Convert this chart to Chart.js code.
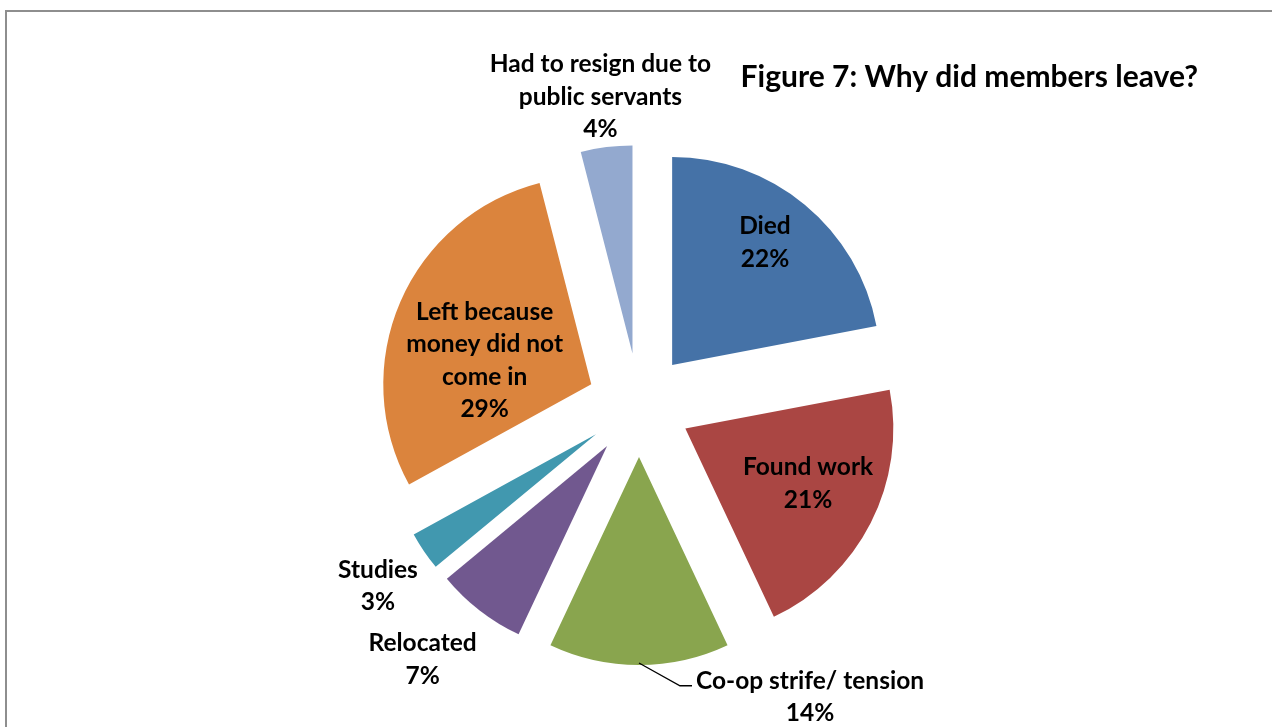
<!DOCTYPE html>
<html>
<head>
<meta charset="utf-8">
<title>Figure 7: Why did members leave?</title>
<script src="https://cdn.jsdelivr.net/npm/chart.js@4.4.1/dist/chart.umd.min.js"></script>
<style>
    html, body { margin: 0; padding: 0; background: #fff; }
    canvas { display: block; }
</style>
</head>
<body>
<canvas id="myChart" width="1272" height="727"></canvas>
<script>
// Why members left the co-op, share of all leavers (%)
const reasons = [
    ['Died'],
    ['Found work'],
    ['Co-op strife/ tension'],
    ['Relocated'],
    ['Studies'],
    ['Left because', 'money did not', 'come in'],
    ['Had to resign due to', 'public servants']
];
const shares = [22, 21, 14, 7, 3, 29, 4];

const sliceColors = ['#4572A7', '#AA4643', '#89A54E', '#71588F', '#4198AF', '#DB843D', '#93A9CF'];

// label placement: fraction of the radius along the slice bisector, then a pixel nudge
const labelRadius = [0.7, 0.7, 1, 1, 1, 0.7, 1];
const labelNudge = [[0, -10], [-7, -11], [171, 32], [-57, 49], [-46, 35], [27, 34], [-6, -50]];
const hasLeader = [false, false, true, false, false, false, false];

const EXPLODE = 52;      // px each slice is pulled out from the centre
const LINE_H = 32.5;
const LABEL_FONT = 'bold 24.5px Lato';

// white background + the frame lines along the top and left
const frame = {
    id: 'frame',
    beforeDraw(chart) {
        const ctx = chart.ctx;
        ctx.save();
        ctx.fillStyle = '#fff';
        ctx.fillRect(0, 0, chart.width, chart.height);
        ctx.strokeStyle = '#8e8e8e';
        ctx.lineWidth = 2;
        ctx.beginPath();
        ctx.moveTo(6, chart.height);
        ctx.lineTo(6, 11);
        ctx.lineTo(chart.width, 11);
        ctx.stroke();
        ctx.restore();
    }
};

// draw every slice pushed out along its bisector (same radius for all of them)
const explodedPie = {
    id: 'explodedPie',
    beforeDatasetDraw(chart, args) {
        const ctx = chart.ctx;
        args.meta.data.forEach(arc => {
            const mid = (arc.startAngle + arc.endAngle) / 2;
            ctx.save();
            ctx.translate(Math.cos(mid) * EXPLODE, Math.sin(mid) * EXPLODE);
            arc.draw(ctx);
            ctx.restore();
        });
        return false;
    },
    afterDatasetsDraw(chart) {
        const ctx = chart.ctx;
        const meta = chart.getDatasetMeta(0);
        ctx.save();
        ctx.font = LABEL_FONT;
        ctx.fillStyle = '#000';
        ctx.strokeStyle = '#000';
        ctx.textAlign = 'center';
        ctx.textBaseline = 'middle';
        meta.data.forEach((arc, i) => {
            const mid = (arc.startAngle + arc.endAngle) / 2;
            const cos = Math.cos(mid), sin = Math.sin(mid);
            const dist = EXPLODE + arc.outerRadius * labelRadius[i];
            const x = arc.x + cos * dist + labelNudge[i][0];
            const y = arc.y + sin * dist + labelNudge[i][1];
            const lines = [...reasons[i], shares[i] + '%'];
            const top = y - (lines.length - 1) * LINE_H / 2;
            lines.forEach((t, k) => ctx.fillText(t, x, top + k * LINE_H));

            if (hasLeader[i]) {
                const edge = EXPLODE + arc.outerRadius - 2;
                const left = x - ctx.measureText(lines[0]).width / 2;
                const ly = top + 5;
                ctx.lineWidth = 1.3;
                ctx.beginPath();
                ctx.moveTo(arc.x + cos * edge, arc.y + sin * edge);
                ctx.lineTo(left - 16, ly);
                ctx.lineTo(left - 4, ly);
                ctx.stroke();
            }
        });
        ctx.restore();
    }
};

const ctx = document.getElementById('myChart');
const myChart = new Chart(ctx, {
    type: 'pie',
    data: {
        labels: reasons,
        datasets: [{
            data: shares,
            backgroundColor: sliceColors,
            borderWidth: 0,
            radius: 208
        }]
    },
    options: {
        responsive: false,
        animation: false,
        events: [],
        layout: {
            padding: { left: 80, right: 74, top: 0, bottom: 17 }
        },
        plugins: {
            legend: { display: false },
            tooltip: { enabled: false },
            title: {
                display: true,
                text: 'Figure 7: Why did members leave?',
                align: 'end',
                color: '#000',
                font: { family: 'Lato', size: 30, weight: 'bold', lineHeight: 1.2 },
                padding: { top: 59, bottom: 5 }
            }
        }
    },
    plugins: [frame, explodedPie]
});
</script>
</body>
</html>
